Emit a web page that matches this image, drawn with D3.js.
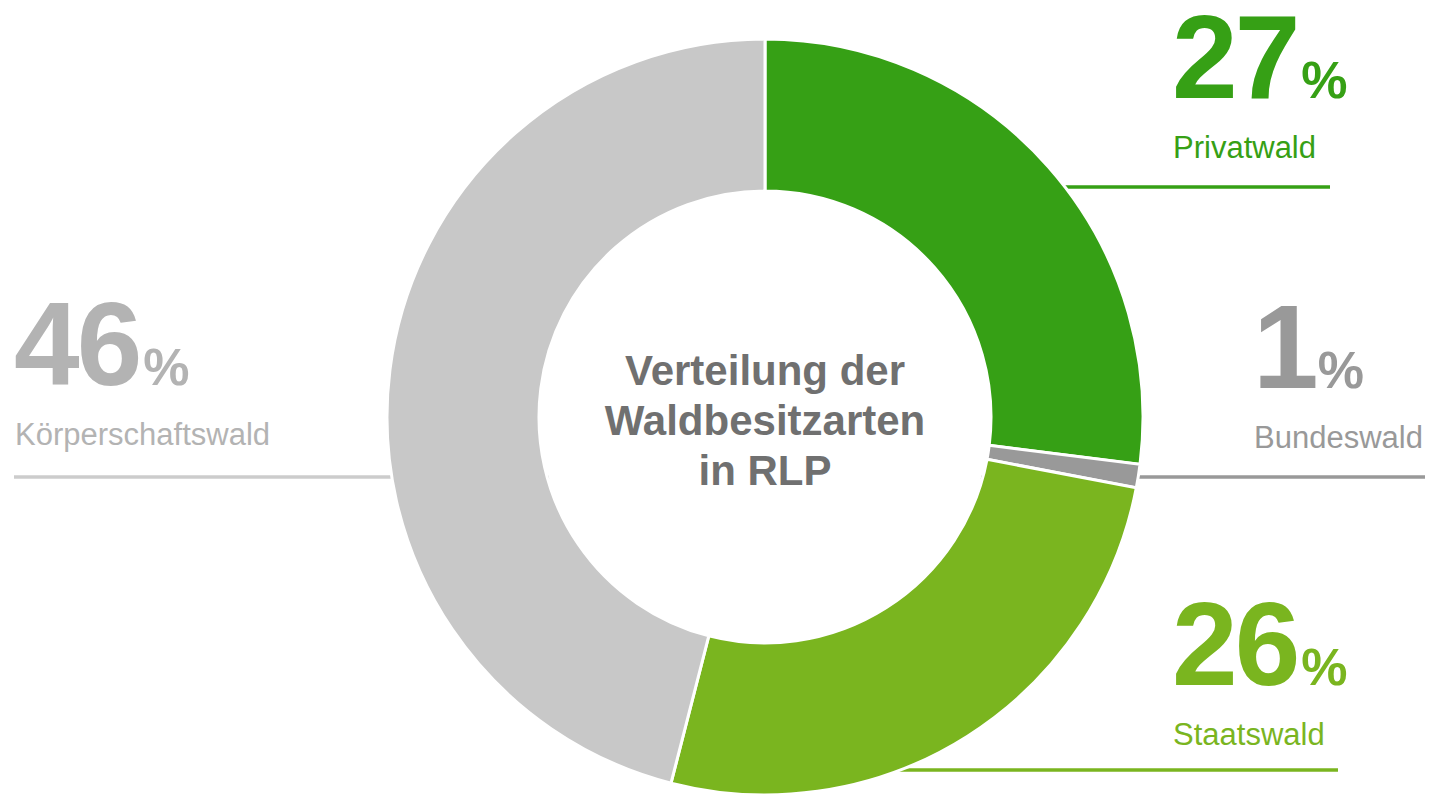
<!DOCTYPE html>
<html>
<head>
<meta charset="utf-8">
<script src="https://cdn.jsdelivr.net/npm/d3@7"></script>
<style>
  body { margin: 0; background: #fff; }
  text { font-family: "Liberation Sans", Arial, sans-serif; }
</style>
</head>
<body>
<div id="container"></div>
<script>
/***** data *****/
let categories = ["Privatwald", "Bundeswald", "Staatswald", "Körperschaftswald"];
let values = [27, 1, 26, 46];
let sliceColors = ["#36a015", "#999999", "#7ab51f", "#c8c8c8"];
let textColors = ["#36a015", "#999999", "#7ab51f", "#b3b3b3"];
let lineColors = ["#36a015", "#999999", "#7ab51f", "#cccccc"];
let title = ["Verteilung der", "Waldbesitzarten", "in RLP"];

/***** layout *****/
var width = 1430, height = 795;
var cx = 765, cy = 417, outerR = 378, innerR = 226;

// label anchor per category: x of text, baseline of the number, y of the rule, rule x-range
var labelPos = [
  {x: 1172, y: 98, line: 187, x1: 900, x2: 1330},
  {x: 1253, y: 388, line: 477, x1: 900, x2: 1425},
  {x: 1172, y: 685, line: 770, x1: 800, x2: 1338},
  {x: 14, y: 385, line: 477, x1: 14, x2: 600}
];

let svg = d3.select("#container")
  .append("svg")
    .attr("width", width)
    .attr("height", height);

// rules first, so the donut covers their inner ends
svg.selectAll("line.rule")
  .data(categories)
  .join("line")
    .attr("class", "rule")
    .attr("x1", (d, i) => labelPos[i].x1)
    .attr("x2", (d, i) => labelPos[i].x2)
    .attr("y1", (d, i) => labelPos[i].line)
    .attr("y2", (d, i) => labelPos[i].line)
    .attr("stroke", (d, i) => lineColors[i])
    .attr("stroke-width", 3.5);

/***** donut *****/
let pie = d3.pie().sort(null).value(d => d);
let arc = d3.arc().innerRadius(innerR).outerRadius(outerR);

let donut = svg.append("g")
  .attr("transform", "translate(" + cx + "," + cy + ")");

donut.selectAll("path")
  .data(pie(values))
  .join("path")
    .attr("d", arc)
    .attr("fill", (d, i) => sliceColors[i])
    .attr("stroke", "#fff")
    .attr("stroke-width", 3);

// white hole (covers rules inside)
donut.append("circle")
  .attr("r", innerR - 1.5)
  .attr("fill", "#fff");

donut.append("text")
  .attr("text-anchor", "middle")
  .attr("font-weight", "bold")
  .attr("font-size", 42)
  .attr("fill", "#707070")
  .selectAll("tspan")
  .data(title)
  .join("tspan")
    .attr("x", 0)
    .attr("y", (d, i) => -32 + i * 50)
    .text(d => d);

/***** labels *****/
let labels = svg.selectAll("g.label")
  .data(categories)
  .join("g")
    .attr("class", "label")
    .attr("transform", (d, i) => "translate(" + labelPos[i].x + "," + labelPos[i].y + ")")
    .attr("fill", (d, i) => textColors[i]);

let num = labels.append("text")
  .attr("font-weight", "bold");
num.append("tspan")
  .attr("font-size", 118)
  .attr("letter-spacing", -3)
  .text((d, i) => values[i]);
num.append("tspan")
  .attr("font-size", 52)
  .attr("dx", (d, i) => values[i] < 10 ? 2 : 4)
  .text("%");

labels.append("text")
  .attr("y", 60)
  .attr("font-size", 31)
  .attr("x", 1)
  .text(d => d);
</script>
</body>
</html>
